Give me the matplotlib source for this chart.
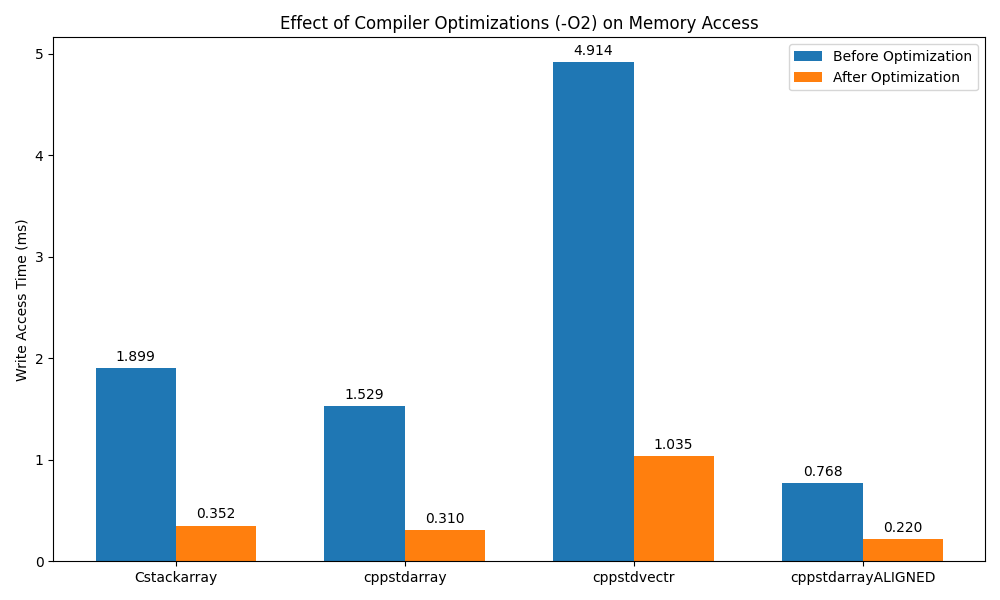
import matplotlib
matplotlib.use("Agg")
import matplotlib.pyplot as plt
import numpy as np

categories = ["Cstackarray", "cppstdarray", "cppstdvectr", "cppstdarrayALIGNED"]
before = [1.899, 1.529, 4.914, 0.768]
after = [0.352, 0.310, 1.035, 0.220]

x = np.arange(len(categories))
width = 0.35

fig, ax = plt.subplots(figsize=(10, 6), dpi=100)
b1 = ax.bar(x - width / 2, before, width, label="Before Optimization")
b2 = ax.bar(x + width / 2, after, width, label="After Optimization")
ax.bar_label(b1, fmt="%.3f", padding=3)
ax.bar_label(b2, fmt="%.3f", padding=3)
ax.set_xticks(x)
ax.set_xticklabels(categories)
ax.set_ylabel("Write Access Time (ms)")
ax.set_title("Effect of Compiler Optimizations (-O2) on Memory Access")
ax.legend()
fig.tight_layout()
fig.savefig("out.png")
